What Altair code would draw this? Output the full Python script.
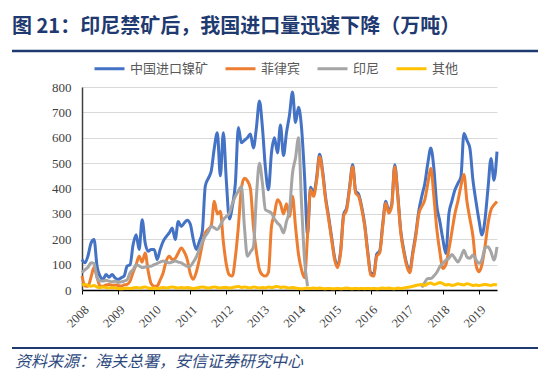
import altair as alt
import pandas as pd

series_names = ["中国进口镍矿", "菲律宾", "印尼", "其他"]
series_colors = ["#4472C4", "#ED7D31", "#A5A5A5", "#FFC000"]
year_ticks = list(range(2008, 2020))
y_ticks = list(range(0, 801, 100))
title_text = "图 21：印尼禁矿后，我国进口量迅速下降（万吨）"
source_text = "资料来源：海关总署，安信证券研究中心"

# monthly values, Jan 2008 .. Jul 2019 (万吨)
china = [
    120, 107, 135, 185, 199, 94, 55, 42, 61, 50, 61, 48,
    42, 48, 55, 94, 100, 179, 218, 160, 277, 186, 153, 160,
    160, 120, 160, 192, 210, 225, 244, 199, 270, 250, 264, 275,
    260, 200, 160, 190, 230, 410, 440, 470, 560, 620, 450, 620,
    430, 280, 330, 420, 640, 580, 590, 600, 615, 560, 640, 745,
    640, 480, 395, 540, 600, 540, 650, 530, 620, 690, 780, 660,
    720, 640, 450, 220, 405, 380, 440, 535, 470, 365, 290, 208,
    128, 96, 154, 298, 324, 408, 494, 390, 377, 328, 259, 154,
    68, 63, 141, 154, 259, 350, 311, 338, 494, 377, 233, 158,
    102, 76, 150, 222, 312, 370, 420, 500, 560, 480, 330, 270,
    200, 144, 300, 350, 394, 420, 446, 617, 590, 558, 433, 350,
    276, 217, 276, 400, 518, 433, 545,
]
philippines = [
    55, 16, 15, 50, 90, 50, 16, 15, 20, 22, 18, 20,
    18, 15, 20, 22, 35, 70, 100, 133, 110, 146, 75, 25,
    15, 16, 40, 68, 114, 133, 120, 125, 146, 166, 150, 120,
    65, 42, 70, 120, 180, 225, 240, 255, 350, 300, 310, 190,
    100, 60, 55, 130, 250, 400, 440, 430, 400, 250, 150, 80,
    60, 55, 70, 250, 300, 356, 340, 300, 340, 290, 369, 250,
    140, 80, 48, 215, 395, 369, 430, 525, 460, 356, 280, 199,
    120, 88, 146, 290, 316, 400, 486, 382, 369, 320, 251, 146,
    60, 55, 133, 146, 251, 342, 303, 330, 486, 369, 225, 150,
    94, 68, 140, 212, 300, 329, 356, 420, 480, 369, 238, 150,
    85, 100, 160, 230, 300, 350, 410, 455, 350, 280, 212, 100,
    72, 100, 170, 260, 316, 335, 349,
]
indonesia = [
    68, 80, 90, 107, 105, 48, 35, 35, 38, 35, 32, 35,
    30, 32, 35, 40, 68, 80, 100, 95, 88, 90, 94, 94,
    100, 105, 110, 114, 110, 107, 110, 114, 110, 107, 100, 94,
    94, 110, 130, 160, 190, 212, 230, 251, 245, 238, 255, 277,
    290, 303, 340, 369, 390, 408, 251, 133, 150, 170, 369, 500,
    420, 316, 310, 303, 280, 264, 251, 225, 270, 316, 460, 520,
    600, 342, 120, 16, None, None, None, None, None, None, None, None,
    None, None, None, None, None, None, None, None, None, None, None, None,
    None, None, None, None, None, None, None, None, None, None, None, None,
    None, None, None, None, None, 10, 30, 45, 45, 55, 70, 92,
    105, 118, 125, 140, 125, 110, 130, 157, 130, 125, 138, 120,
    105, 120, 165, 170, 150, 118, 170,
]
others = [
    20, 22, 18, 15, 18, 12, 10, 12, 10, 8, 10, 8,
    6, 5, 6, 8, 6, 8, 10, 8, 10, 12, 8, 6,
    8, 6, 8, 10, 8, 10, 12, 10, 8, 10, 8, 10,
    8, 6, 8, 10, 12, 10, 8, 10, 12, 10, 8, 10,
    10, 8, 10, 12, 14, 10, 12, 10, 8, 12, 10, 8,
    10, 8, 12, 10, 12, 14, 10, 12, 10, 8, 10, 8,
    6, 5, 6, 8, 6, 8, 6, 8, 6, 5, 6, 5,
    5, 6, 5, 6, 8, 6, 5, 6, 5, 6, 5, 6,
    5, 6, 5, 6, 8, 6, 8, 6, 5, 8, 6, 8,
    10, 12, 15, 18, 20, 22, 18, 25, 28, 22, 25, 30,
    25, 20, 22, 18, 20, 25, 22, 20, 25, 22, 18, 20,
    18, 20, 22, 20, 18, 22, 20,
]

n = len(china)
rows = []
for name, vals in zip(series_names, [china, philippines, indonesia, others]):
    seg = 0
    prev_none = False
    for i, v in enumerate(vals):
        if v is None:
            prev_none = True
            continue
        if prev_none:
            seg += 1
            prev_none = False
        rows.append({"t": 2008 + i / 12, "v": v, "s": name, "seg": seg})
df = pd.DataFrame(rows)

W, H = 415, 203
serif = "Liberation Serif"
cjk = "Noto Sans CJK SC"

x_enc = alt.X(
    "t:Q",
    scale=alt.Scale(domain=[2008, 2008 + (n - 1) / 12], nice=False, zero=False),
    axis=alt.Axis(
        values=year_ticks, format="d", labelAngle=315, grid=False,
        domainColor="#000000", domainWidth=1.5, tickColor="#000000", tickSize=4,
        labelFont=serif, labelFontSize=12.5, labelColor="#404040", labelPadding=9,
    ),
    title=None,
)
y_enc = alt.Y(
    "v:Q",
    scale=alt.Scale(domain=[0, 800], nice=False),
    axis=alt.Axis(
        values=y_ticks, grid=True, gridColor="#D9D9D9", gridWidth=1,
        domainColor="#404040", domainWidth=1.5, ticks=False, labelPadding=11,
        labelFont=serif, labelFontSize=13, labelColor="#404040",
    ),
    title=None,
)
color_enc = alt.Color(
    "s:N",
    scale=alt.Scale(domain=series_names, range=series_colors),
    legend=alt.Legend(
        orient="none", legendX=11, legendY=-35, direction="horizontal", title=None,
        symbolType="stroke", symbolSize=900, symbolStrokeWidth=3,
        labelFont=cjk, labelFontSize=13, labelColor="#595959",
        labelOffset=4, columnPadding=10,
    ),
)

layers = []
for name in series_names:
    layers.append(
        alt.Chart(df)
        .transform_filter(alt.datum.s == name)
        .mark_line(strokeWidth=3, interpolate="monotone")
        .encode(x=x_enc, y=y_enc, color=color_enc, detail="seg:N")
    )

title_mark = alt.Chart(pd.DataFrame({"txt": [title_text]})).mark_text(
    align="left", baseline="middle", font=cjk, fontSize=20, fontWeight="bold", color="#1F3A70"
).encode(x=alt.value(-70), y=alt.value(-60), text="txt:N")
title_rule = alt.Chart(pd.DataFrame({"a": [0]})).mark_rule(color="#1F3A70", strokeWidth=2.5).encode(
    x=alt.value(-70), x2=alt.value(456), y=alt.value(-36)
)
source_rule = alt.Chart(pd.DataFrame({"a": [0]})).mark_rule(color="#1F3A70", strokeWidth=2).encode(
    x=alt.value(-70), x2=alt.value(456), y=alt.value(261)
)
source_mark = alt.Chart(pd.DataFrame({"txt": [source_text]})).mark_text(
    align="left", baseline="middle", font=cjk, fontSize=16, fontStyle="italic", color="#2E4A7D"
).encode(x=alt.value(-67), y=alt.value(275), text="txt:N")

chart = (
    alt.layer(*layers, title_mark, title_rule, source_rule, source_mark)
    .properties(
        width=W, height=H,
        autosize=alt.AutoSizeParams(type="none"),
        padding={"left": 74, "top": 79, "right": 45, "bottom": 82},
        background="#FFFFFF",
    )
    .configure_view(stroke=None)
)

chart.save("out.html", embed_options={"renderer": "svg", "actions": False})
